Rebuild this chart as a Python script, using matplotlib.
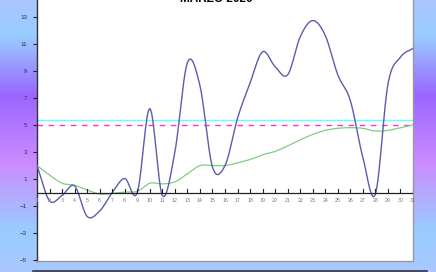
import numpy as np
import matplotlib
matplotlib.use("Agg")
import matplotlib.pyplot as plt
from matplotlib.colors import LinearSegmentedColormap
from matplotlib.lines import Line2D

plt.rcParams['font.family'] = ['Liberation Sans', 'DejaVu Sans']

# daily values, march 2020
days = list(range(1, 32))
daily = [2.0, -0.6, -0.2, 0.5, -1.75, -1.35, 0.0, 1.05, 0.0, 6.2,
         -0.2, 3.0, 9.6, 7.9, 1.9, 2.0, 5.5, 8.1, 10.4, 9.3,
         8.7, 11.5, 12.7, 11.6, 8.7, 6.8, 2.6, -0.1, 8.0, 10.0, 10.65]
mean_line = [2.0, 1.3, 0.7, 0.55, 0.2, -0.1, -0.05, 0.05, 0.1, 0.7,
             0.65, 0.8, 1.4, 2.0, 2.0, 2.0, 2.2, 2.45, 2.8, 3.05,
             3.45, 3.9, 4.3, 4.6, 4.75, 4.8, 4.75, 4.55, 4.6, 4.8, 5.0]
avg_month = 5.4
reference = 5.0
title = "MARZO 2020"


def catmull_rom(x, y, n=20):
    # smooth curve through the points, like the original chart
    x = np.asarray(x, float)
    y = np.asarray(y, float)
    px = np.concatenate([[2 * x[0] - x[1]], x, [2 * x[-1] - x[-2]]])
    py = np.concatenate([[2 * y[0] - y[1]], y, [2 * y[-1] - y[-2]]])
    xs, ys = [], []
    t = np.linspace(0, 1, n, endpoint=False)
    for i in range(1, len(px) - 2):
        for arr, out in ((px, xs), (py, ys)):
            p0, p1, p2, p3 = arr[i - 1], arr[i], arr[i + 1], arr[i + 2]
            out.append(0.5 * (2 * p1 + (-p0 + p2) * t
                              + (2 * p0 - 5 * p1 + 4 * p2 - p3) * t ** 2
                              + (-p0 + 3 * p1 - 3 * p2 + p3) * t ** 3))
    xs.append([x[-1]])
    ys.append([y[-1]])
    return np.concatenate(xs), np.concatenate(ys)


fig = plt.figure(figsize=(4.36, 2.72), dpi=100)

# gradient background
bg = fig.add_axes([0, 0, 1, 1])
cmap = LinearSegmentedColormap.from_list("bg", [
    (0.0, "#aac6ff"), (0.13, "#99ccff"), (0.35, "#9a66ff"),
    (0.6, "#cc8cff"), (0.85, "#99ccff"), (1.0, "#aac8ff")])
bg.imshow(np.linspace(0, 1, 256).reshape(-1, 1), aspect='auto', cmap=cmap,
          extent=[0, 1, 0, 1], origin='upper')
bg.axis('off')

fig.add_artist(Line2D([33 / 436, 427 / 436], [1 - 270.5 / 272] * 2,
                      color='#333344', lw=1.2, transform=fig.transFigure))

ax = fig.add_axes([37 / 436, 1 - 261 / 272, 376 / 436, 261 / 272])
ax.set_facecolor('white')
ax.set_xlim(1, 31)
ax.set_ylim(-5.04, 14.22)

ax.axhline(avg_month, color='#66ffff', lw=1.0, zorder=2)
ax.plot([1, 31], [reference, reference], color='#ff33cc', lw=1.0,
        dashes=(4, 4), zorder=2)

gx, gy = catmull_rom(days, mean_line)
ax.plot(gx, gy, color='#80cc80', lw=0.9, zorder=3)
bx, by = catmull_rom(days, daily)
ax.plot(bx, by, color='#5c5cad', lw=1.0, zorder=4)

# zero axis with day ticks
ax.axhline(0, color='#222222', lw=0.9, zorder=5)
for d in days[1:]:
    ax.plot([d, d], [0, 0.3], color='#222222', lw=0.8, zorder=5)
    ax.text(d, -0.4, str(d), fontsize=3.8, color='#777777',
            ha='center', va='top', zorder=5)
ax.text(1, -0.4, "1", fontsize=3.8, color='#88aaff', ha='center', va='top')

ax.set_xticks([])
ax.set_yticks(range(-5, 14, 2))
ax.tick_params(axis='y', length=3, width=0.8, color='#222222',
               labelsize=4.5, labelcolor='#333333', pad=4)

ax.spines['top'].set_visible(False)
ax.spines['left'].set_color('#333333')
ax.spines['left'].set_linewidth(1.0)
ax.spines['right'].set_color('#999999')
ax.spines['bottom'].set_color('#999999')
ax.spines['right'].set_linewidth(1.0)
ax.spines['bottom'].set_linewidth(1.0)

fig.text(216 / 436, 1.0 - 1.5 / 272, title, ha='center', va='baseline',
         fontsize=8.5, fontweight='bold', color='black')

fig.savefig("out.png", dpi=100)
